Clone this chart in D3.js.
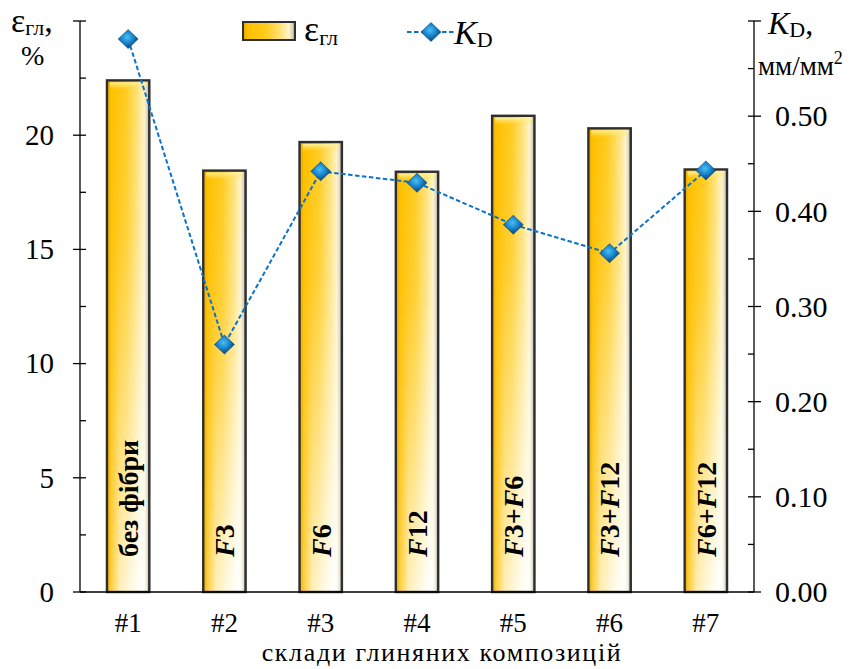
<!DOCTYPE html>
<html><head><meta charset="utf-8">
<script src="https://cdn.jsdelivr.net/npm/d3@7/dist/d3.min.js"></script>
<style>
html,body{margin:0;padding:0;background:#fff;}
</style></head>
<body><svg id="chart" width="863" height="669" font-family="'Liberation Serif', Tinos, 'Times New Roman', serif"></svg>
<script>
const categories = ["#1","#2","#3","#4","#5","#6","#7"];
const barLabels = ["без фібри","F3","F6","F12","F3+F6","F3+F12","F6+F12"];
const epsValues = [22.4, 18.45, 19.7, 18.4, 20.85, 20.3, 18.5];
const kdValues = [0.581, 0.260, 0.442, 0.430, 0.386, 0.356, 0.443];
const leftTicks = [0, 5, 10, 15, 20, 25];
const leftMinor = [2.5, 7.5, 12.5, 17.5, 22.5];
const rightTicks = [0, 0.1, 0.2, 0.3, 0.4, 0.5, 0.6];
const rightMinor = [0.05, 0.15, 0.25, 0.35, 0.45, 0.55];
const xTitle = "склади глиняних композицій";

const svg = d3.select("#chart");
const m = {left: 80, right: 754, top: 21, bottom: 592};

const x = d3.scaleBand().domain(categories).range([m.left, m.right]).paddingInner(0.56).paddingOuter(0.28);
const yL = d3.scaleLinear().domain([0, 25]).range([m.bottom, m.top]);
const yR = d3.scaleLinear().domain([0, 0.6]).range([m.bottom, m.top]);

const defs = svg.append("defs");
const hg = defs.append("linearGradient").attr("id","barH").attr("x1",0).attr("x2",1).attr("y1",0).attr("y2",0);
[[0,"#E8A800"],[0.1,"#FFC000"],[0.45,"#FFCC20"],[0.72,"#FFE27A"],[0.88,"#FFF4C8"],[0.95,"#D8D4C4"],[1,"#8a8a80"]]
  .forEach(([o,c]) => hg.append("stop").attr("offset",o).attr("stop-color",c));
const wg = defs.append("linearGradient").attr("id","whiteH").attr("x1",0).attr("x2",1).attr("y1",0).attr("y2",0);
[[0,"#fff",0],[0.3,"#fff",0.7],[0.85,"#fff",1],[0.95,"#fff",0.3],[1,"#fff",0]]
  .forEach(([o,c,op]) => wg.append("stop").attr("offset",o).attr("stop-color",c).attr("stop-opacity",op));
const vg = defs.append("linearGradient").attr("id","maskV").attr("x1",0).attr("x2",0).attr("y1",0).attr("y2",1);
[[0,"#000"],[0.3,"#222"],[1,"#fff"]].forEach(([o,c]) => vg.append("stop").attr("offset",o).attr("stop-color",c));
defs.append("mask").attr("id","vmask").attr("maskContentUnits","objectBoundingBox")
  .append("rect").attr("x",0).attr("y",0).attr("width",1).attr("height",1).attr("fill","url(#maskV)");
const tg = defs.append("linearGradient").attr("id","topHi").attr("x1",0).attr("x2",0).attr("y1",0).attr("y2",1);
[[0,"#FFF2A0",1],[1,"#FFE060",0]].forEach(([o,c,op]) => tg.append("stop").attr("offset",o).attr("stop-color",c).attr("stop-opacity",op));
const dg = defs.append("radialGradient").attr("id","dia").attr("cx",0.45).attr("cy",0.4).attr("r",0.6);
[[0,"#48c0f8"],[0.5,"#1a86cc"],[1,"#0a3f78"]].forEach(([o,c]) => dg.append("stop").attr("offset",o).attr("stop-color",c));

// Bars
const bw = x.bandwidth();
const bars = svg.append("g");
categories.forEach((c, i) => {
  const bx = x(c), by = yL(epsValues[i]), bh = yL(0) - by;
  bars.append("rect").attr("x",bx).attr("y",by).attr("width",bw).attr("height",bh).attr("fill","url(#barH)");
  bars.append("rect").attr("x",bx).attr("y",by).attr("width",bw).attr("height",bh).attr("fill","url(#whiteH)").attr("mask","url(#vmask)");
  bars.append("rect").attr("x",bx+3).attr("y",by+2).attr("width",bw-6).attr("height",7).attr("fill","url(#topHi)");
  bars.append("rect").attr("x",bx).attr("y",by).attr("width",bw).attr("height",bh)
    .attr("fill","none").attr("stroke","#2e2e2e").attr("stroke-width",2.4);
});

// Bar labels
categories.forEach((c, i) => {
  const cx = x(c) + bw/2;
  const t = svg.append("text").attr("transform",`translate(${cx},557) rotate(-90)`)
    .attr("dy","0.35em").attr("font-size",28).attr("font-weight","bold").attr("fill","#000");
  const parts = barLabels[i].split(/(F)/).filter(s => s.length);
  parts.forEach(p => t.append("tspan").text(p).attr("font-style", p === "F" ? "italic" : "normal"));
});

// Axes lines
const ax = svg.append("g").attr("stroke","#000").attr("stroke-width",1.3);
ax.append("line").attr("x1",m.left).attr("x2",m.left).attr("y1",m.top).attr("y2",m.bottom);
ax.append("line").attr("x1",m.right).attr("x2",m.right).attr("y1",m.top).attr("y2",m.bottom);
ax.append("line").attr("x1",m.left).attr("x2",m.right).attr("y1",m.bottom).attr("y2",m.bottom);

// Left ticks
leftTicks.forEach(v => {
  ax.append("line").attr("x1",m.left-7).attr("x2",m.left+6).attr("y1",yL(v)).attr("y2",yL(v));
  if (v !== 25) svg.append("text").attr("x",54).attr("y",yL(v)).attr("dy","0.34em").attr("text-anchor","end").attr("font-size",29).text(v);
});
leftMinor.forEach(v => ax.append("line").attr("x1",m.left).attr("x2",m.left+6).attr("y1",yL(v)).attr("y2",yL(v)));
// Right ticks
rightTicks.forEach(v => {
  ax.append("line").attr("x1",m.right-6).attr("x2",m.right+7).attr("y1",yR(v)).attr("y2",yR(v));
  if (Math.abs(v-0.6) > 1e-9) svg.append("text").attr("x",775).attr("y",yR(v)).attr("dy","0.34em").attr("font-size",30).text(d3.format(".2f")(v));
});
rightMinor.forEach(v => ax.append("line").attr("x1",m.right-6).attr("x2",m.right).attr("y1",yR(v)).attr("y2",yR(v)));

// X labels
categories.forEach(c => svg.append("text").attr("x",x(c)+bw/2).attr("y",632).attr("text-anchor","middle").attr("font-size",27).text(c));
const xt = svg.append("text").attr("x",442).attr("y",661).attr("text-anchor","middle").attr("font-size",26).text(xTitle);
const len = xt.node().getComputedTextLength();
const n = xTitle.length;
xt.attr("letter-spacing", Math.max(0, (359 - len) / (n - 1)));

// K_D line
const line = d3.line().x((d,i) => x(categories[i]) + bw/2).y(d => yR(d));
svg.append("path").datum(kdValues).attr("d",line).attr("fill","none").attr("stroke","#0a72c8").attr("stroke-width",2).attr("stroke-dasharray","4.5,2.5");
const diamond = (cx, cy, rx, ry) => `M${cx},${cy-ry}L${cx+rx},${cy}L${cx},${cy+ry}L${cx-rx},${cy}Z`;
kdValues.forEach((v,i) => svg.append("path").attr("d",diamond(x(categories[i])+bw/2, yR(v), 10, 9.5)).attr("fill","url(#dia)").attr("stroke","#0d4d7d").attr("stroke-width",0.6));

// Axis titles
const lt = svg.append("text").attr("x",11).attr("y",32).attr("font-size",34);
lt.append("tspan").text("ε");
lt.append("tspan").attr("font-size",22).attr("dy",3).text("гл");
lt.append("tspan").attr("dy",-3).text(",");
svg.append("text").attr("x",21).attr("y",65).attr("font-size",28).text("%");

const rt = svg.append("text").attr("x",768).attr("y",34).attr("font-size",32);
rt.append("tspan").attr("font-style","italic").text("K");
rt.append("tspan").attr("font-size",22).attr("dy",3).text("D");
rt.append("tspan").attr("dy",-3).text(",");
const rt2 = svg.append("text").attr("x",758).attr("y",75).attr("font-size",27);
rt2.append("tspan").text("мм/мм");
rt2.append("tspan").attr("font-size",18).attr("dy",-11).text("2");

// Legend
const lg = svg.append("g");
lg.append("rect").attr("x",243).attr("y",22).attr("width",52).attr("height",18).attr("fill","url(#barH)");
lg.append("rect").attr("x",243).attr("y",22).attr("width",52).attr("height",18).attr("fill","none").attr("stroke","#2e2e2e").attr("stroke-width",2);
const l1 = lg.append("text").attr("x",304).attr("y",41).attr("font-size",36);
l1.append("tspan").text("ε");
l1.append("tspan").attr("font-size",22).attr("dy",4).text("гл");
lg.append("line").attr("x1",407).attr("x2",455).attr("y1",32).attr("y2",32).attr("stroke","#0a72c8").attr("stroke-width",2).attr("stroke-dasharray","4.5,2.5");
lg.append("path").attr("d",diamond(431,32,10,9.5)).attr("fill","url(#dia)").attr("stroke","#0d4d7d").attr("stroke-width",0.6);
const l2 = lg.append("text").attr("x",454).attr("y",44).attr("font-size",34);
l2.append("tspan").attr("font-style","italic").text("K");
l2.append("tspan").attr("font-size",22).attr("dy",3).text("D");
</script></body></html>
